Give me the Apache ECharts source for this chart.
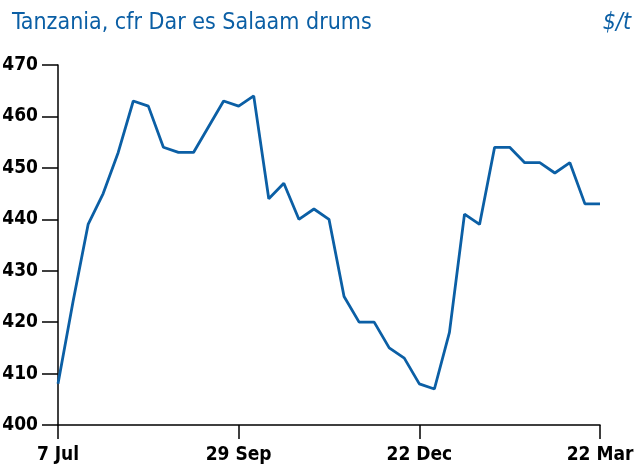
<!DOCTYPE html>
<html>
<head>
<meta charset="utf-8">
<script src="https://cdn.jsdelivr.net/npm/echarts@6/dist/echarts.min.js"></script>
<style>
  html, body { margin: 0; padding: 0; background: #fff; }
  #chart { width: 639px; height: 465px; }
</style>
</head>
<body>
<div id="chart"></div>
<script>
// weekly dates (no quote on 29 Dec)
const weeks = [
  '7 Jul', '14 Jul', '21 Jul', '28 Jul', '4 Aug', '11 Aug', '18 Aug', '25 Aug',
  '1 Sep', '8 Sep', '15 Sep', '22 Sep', '29 Sep', '6 Oct', '13 Oct', '20 Oct',
  '27 Oct', '3 Nov', '10 Nov', '17 Nov', '24 Nov', '1 Dec', '8 Dec', '15 Dec',
  '22 Dec', '5 Jan', '12 Jan', '19 Jan', '26 Jan', '2 Feb', '9 Feb', '16 Feb',
  '23 Feb', '1 Mar', '8 Mar', '15 Mar', '22 Mar'
];

const prices = [
  408, 424, 439, 445, 453, 463, 462, 454, 453, 453, 458, 463, 462, 464, 444, 447,
  440, 442, 440, 425, 420, 420, 415, 413, 408, 407, 418, 441, 439, 454, 454, 451,
  451, 449, 451, 443, 443
];

const blue = '#0b5fa5';
const fontName = 'DejaVu Sans Condensed';

const myChart = echarts.init(document.getElementById('chart'));

myChart.setOption({
  animation: false,
  title: [
    {
      text: 'Tanzania, cfr Dar es Salaam drums',
      left: 7, top: 7,
      textStyle: { color: blue, fontFamily: fontName, fontSize: 23, fontWeight: 'normal' }
    },
    {
      text: '$/t',
      right: 3, top: 7,
      textStyle: { color: blue, fontFamily: fontName, fontSize: 23, fontWeight: 'normal', fontStyle: 'italic' }
    }
  ],
  grid: { left: 58, right: 39, top: 65, bottom: 40, containLabel: false, outerBoundsMode: 'none' },
  xAxis: {
    type: 'category',
    data: weeks,
    boundaryGap: false,
    axisLine: { lineStyle: { color: '#000', width: 1.5 } },
    axisTick: { interval: 11, length: 14, lineStyle: { color: '#000', width: 1.5 } },
    axisLabel: {
      interval: 11, margin: 21, color: '#000',
      fontFamily: fontName, fontSize: 19, fontWeight: 'bold'
    },
    splitLine: { show: false }
  },
  yAxis: {
    type: 'value',
    min: 400, max: 470, interval: 10,
    axisLine: { show: true, lineStyle: { color: '#000', width: 1.5 } },
    axisTick: { show: true, length: 16, lineStyle: { color: '#000', width: 1.5 } },
    axisLabel: {
      margin: 20, color: '#000',
      fontFamily: fontName, fontSize: 19, fontWeight: 'bold'
    },
    splitLine: { show: false }
  },
  series: [{
    type: 'line',
    data: prices,
    showSymbol: false,
    lineStyle: { color: blue, width: 2.8 },
    clip: false
  }]
});
</script>
</body>
</html>
